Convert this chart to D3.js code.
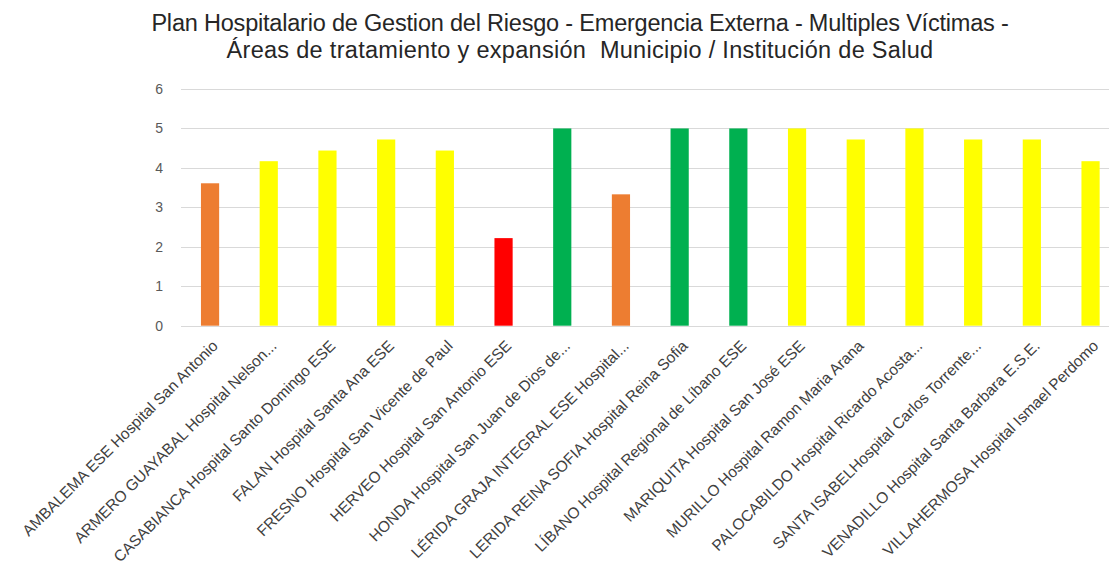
<!DOCTYPE html>
<html><head><meta charset="utf-8">
<script src="https://cdn.jsdelivr.net/npm/d3@7"></script>
<style>body{margin:0;background:#fff;} svg{display:block;font-family:"Liberation Sans",Arial,sans-serif;}</style>
</head><body><svg id="c" width="1109" height="570"></svg>
<script>
const categories = [
  "AMBALEMA ESE Hospital San Antonio",
  "ARMERO GUAYABAL Hospital Nelson...",
  "CASABIANCA Hospital Santo Domingo ESE",
  "FALAN Hospital Santa Ana ESE",
  "FRESNO Hospital San Vicente de Paul",
  "HERVEO Hospital San Antonio ESE",
  "HONDA Hospital San Juan de Dios de...",
  "LÉRIDA GRAJA INTEGRAL ESE Hospital...",
  "LERIDA REINA SOFIA Hospital Reina Sofia",
  "LÍBANO Hospital Regional de Líbano ESE",
  "MARIQUITA Hospital San José ESE",
  "MURILLO Hospital Ramon Maria Arana",
  "PALOCABILDO Hospital Ricardo Acosta...",
  "SANTA ISABELHospital Carlos Torrente...",
  "VENADILLO Hospital Santa Barbara E.S.E.",
  "VILLAHERMOSA Hospital Ismael Perdomo"
];
const values = [3.61, 4.17, 4.44, 4.72, 4.44, 2.22, 5, 3.33, 5, 5, 5, 4.72, 5, 4.72, 4.72, 4.17];
const levels = ["medio","alto","alto","alto","alto","bajo","optimo","medio","optimo","optimo","alto","alto","alto","alto","alto","alto"];
const levelColors = {bajo:"#FF0000", medio:"#ED7D31", alto:"#FFFF00", optimo:"#00B050"};
const yTicks = [0,1,2,3,4,5,6];
const titleLines = [
  "Plan Hospitalario de Gestion del Riesgo - Emergencia Externa - Multiples Víctimas -",
  "Áreas de tratamiento y expansión\u00A0\u00A0Municipio / Institución de Salud"
];

const svg = d3.select("#c");
const x = d3.scaleBand().domain(categories).range([180.7, 1119.9]).paddingInner(0.69).paddingOuter(0.345);
const y = d3.scaleLinear().domain([0, 6]).range([325.7, 89]);

// title
svg.append("g").selectAll("text").data(titleLines).join("text")
  .attr("x", 580).attr("y", (d,i) => 31 + i*27)
  .attr("text-anchor", "middle").attr("font-size", 23.5).attr("fill", "#262626")
  .attr("letter-spacing", (d,i) => i === 0 ? "-0.2px" : "0.3px")
  .text(d => d);

// gridlines
svg.append("g").selectAll("line").data(yTicks).join("line")
  .attr("x1", 181).attr("x2", 1109)
  .attr("y1", d => Math.round(y(d)) + 0.5).attr("y2", d => Math.round(y(d)) + 0.5)
  .attr("stroke", "#d9d9d9").attr("stroke-width", 1.2);

// y axis labels
const yAxis = d3.axisLeft(y).tickValues(yTicks).tickFormat(d3.format("d")).tickSize(0).tickPadding(0);
const ga = svg.append("g").attr("transform", "translate(163,0)").call(yAxis);
ga.select(".domain").remove();
ga.selectAll("text").attr("font-size", 14).attr("fill", "#595959").attr("font-family", "Liberation Sans, Arial, sans-serif");

// bars
svg.append("g").selectAll("rect").data(values).join("rect")
  .attr("x", (d,i) => x(categories[i]))
  .attr("width", x.bandwidth())
  .attr("y", d => y(d))
  .attr("height", d => y(0) - y(d))
  .attr("fill", (d,i) => levelColors[levels[i]]);

// x labels
const xAxis = d3.axisBottom(x).tickSize(0).tickPadding(0);
const gx = svg.append("g").attr("transform", "translate(0,326)").call(xAxis);
gx.select(".domain").remove();
gx.selectAll("text")
  .attr("font-size", 15.5).attr("fill", "#404040").attr("font-family", "Liberation Sans, Arial, sans-serif")
  .attr("text-anchor", "end")
  .attr("transform", "translate(5,17) rotate(-45)")
  .attr("dy", "0.35em").attr("y", 0);
</script></body></html>
